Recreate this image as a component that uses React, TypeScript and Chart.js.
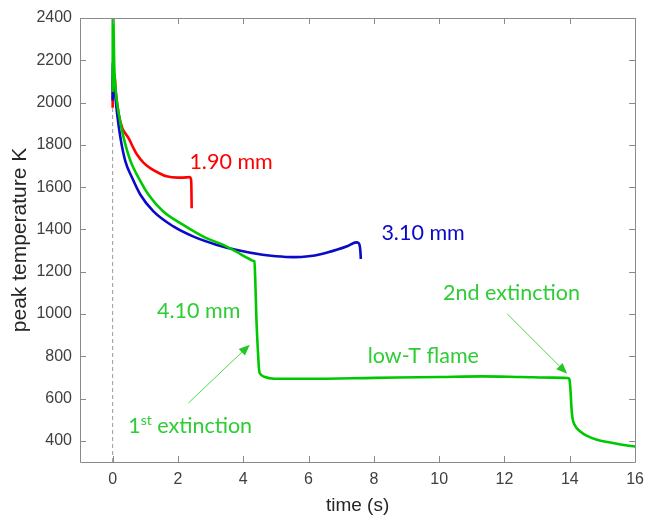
import React, { useEffect, useRef } from "react";
import { Chart, registerables } from "chart.js";

Chart.register(...registerables);

// ---- data (time in s, peak temperature in K) ----
const redTime = [0, 0.004, 0.05, 0.1, 0.19, 0.3, 0.4, 0.5, 0.62, 0.75, 0.95, 1.15, 1.4, 1.65, 2.0, 2.26, 2.36, 2.395, 2.41, 2.415, 2.42];
const redTemp = [1975, 2110, 2140, 2045, 1943, 1878, 1852, 1828, 1790, 1753, 1715, 1690, 1668, 1651, 1645, 1646, 1648, 1640, 1610, 1560, 1500];

const blueTime = [0, 0.004, 0.03, 0.07, 0.14, 0.24, 0.39, 0.6, 0.85, 1.25, 1.86, 2.46, 3.17, 3.77, 4.59, 5.0, 5.55, 6.0, 6.4, 6.86, 7.2, 7.46, 7.53, 7.57, 7.59, 7.6];
const blueTemp = [2010, 2190, 2130, 2050, 1943, 1832, 1722, 1643, 1564, 1485, 1414, 1367, 1328, 1304, 1280, 1273, 1269, 1273, 1284, 1304, 1322, 1339, 1336, 1320, 1290, 1260];

const greenTime = [0, 0.006, 0.05, 0.1, 0.19, 0.34, 0.55, 0.8, 1.1, 1.55, 2.16, 2.87, 3.37, 3.77, 4.19, 4.3, 4.34, 4.37, 4.4, 4.45, 4.49, 4.55, 4.64, 4.94, 6, 8, 10, 11.3, 12.5, 13.5, 13.94, 13.99, 14.02, 14.05, 14.08, 14.15, 14.32, 14.55, 14.83, 15.2, 15.6, 16];
const greenTemp = [2050, 2500, 2170, 2045, 1943, 1832, 1722, 1643, 1564, 1485, 1422, 1359, 1328, 1296, 1260, 1252, 1249, 1150, 988, 820, 728, 712, 703, 694, 694, 698, 702, 705, 702, 699, 697, 690, 642, 560, 510, 475, 444, 422, 405, 393, 382, 373];

const zeroTime = [0, 0];
const zeroTemp = [300, 2400];

const xTicks = [0, 2, 4, 6, 8, 10, 12, 14, 16];
const yTicks = [400, 600, 800, 1000, 1200, 1400, 1600, 1800, 2000, 2200, 2400];
const xRange = [-1, 16];
const yRange = [300, 2400];

const annotationTexts = ["1.90 mm", "3.10 mm", "4.10 mm", "low-T flame", "2nd extinction"];
const annotationTime = [2.35, 8.23, 1.36, 7.81, 10.12];
const annotationTemp = [1718, 1384, 1016, 803, 1099];

const firstExtText = ["1", "st", " extinction"];
const firstExtTime = 0.475;
const firstExtTemp = 468;

const arrowFromTime = [2.32, 12.08];
const arrowFromTemp = [579, 1001];
const arrowToTime = [4.2, 13.92];
const arrowToTemp = [855, 717];

// ---- styles ----
const RED = "#ff0000";
const BLUE = "#0a0ac8";
const GREEN = "#00c800";
const GREEN_TEXT = "#2ecc35";
const AXIS = "#8a8a8a";
const TICK_TEXT = "#404040";
const annotationColors = [RED, BLUE, GREEN_TEXT, GREEN_TEXT, GREEN_TEXT];
const ANNOT_FONT = "Lato";
const ANNOT_SIZE = 21.5;

const zip = (xs: number[], ys: number[]) => xs.map((x, i) => ({ x, y: ys[i] }));

const framePlugin = {
  id: "frame",
  afterDatasetsDraw(chart: any) {
    const { ctx, chartArea: a, scales } = chart;
    const xs = scales.x;
    const ys = scales.y;
    ctx.save();
    // box
    ctx.strokeStyle = AXIS;
    ctx.lineWidth = 1;
    ctx.beginPath();
    ctx.rect(Math.round(a.left) + 0.5, Math.round(a.top) + 0.5, Math.round(a.right - a.left), Math.round(a.bottom - a.top));
    ctx.stroke();
    // inward ticks
    const L = 6;
    ctx.beginPath();
    xTicks.forEach((v) => {
      const px = Math.round(xs.getPixelForValue(v)) + 0.5;
      ctx.moveTo(px, a.bottom);
      ctx.lineTo(px, a.bottom - L);
      ctx.moveTo(px, a.top);
      ctx.lineTo(px, a.top + L);
    });
    yTicks.forEach((v) => {
      const py = Math.round(ys.getPixelForValue(v)) + 0.5;
      ctx.moveTo(a.left, py);
      ctx.lineTo(a.left + L, py);
      ctx.moveTo(a.right, py);
      ctx.lineTo(a.right - L, py);
    });
    ctx.stroke();

    // arrows
    ctx.strokeStyle = "#4ddb4d";
    ctx.fillStyle = "#22c822";
    arrowFromTime.forEach((_, i) => {
      const x0 = xs.getPixelForValue(arrowFromTime[i]);
      const y0 = ys.getPixelForValue(arrowFromTemp[i]);
      const x1 = xs.getPixelForValue(arrowToTime[i]);
      const y1 = ys.getPixelForValue(arrowToTemp[i]);
      const ang = Math.atan2(y1 - y0, x1 - x0);
      const head = 11;
      const half = 4.5;
      const bx = x1 - head * Math.cos(ang);
      const by = y1 - head * Math.sin(ang);
      ctx.lineWidth = 1;
      ctx.beginPath();
      ctx.moveTo(x0, y0);
      ctx.lineTo(bx, by);
      ctx.stroke();
      ctx.beginPath();
      ctx.moveTo(x1, y1);
      ctx.lineTo(bx + half * Math.sin(ang), by - half * Math.cos(ang));
      ctx.lineTo(bx - half * Math.sin(ang), by + half * Math.cos(ang));
      ctx.closePath();
      ctx.fill();
    });

    // text annotations
    ctx.textBaseline = "middle";
    ctx.textAlign = "left";
    annotationTexts.forEach((t, i) => {
      ctx.font = `${ANNOT_SIZE}px ${ANNOT_FONT}`;
      ctx.fillStyle = annotationColors[i];
      ctx.fillText(t, xs.getPixelForValue(annotationTime[i]), ys.getPixelForValue(annotationTemp[i]));
    });
    // 1st extinction with superscript
    let px = xs.getPixelForValue(firstExtTime);
    const py = ys.getPixelForValue(firstExtTemp);
    ctx.fillStyle = GREEN_TEXT;
    ctx.font = `${ANNOT_SIZE}px ${ANNOT_FONT}`;
    ctx.fillText(firstExtText[0], px, py);
    px += ctx.measureText(firstExtText[0]).width;
    ctx.font = `14px ${ANNOT_FONT}`;
    ctx.fillText(firstExtText[1], px, py - 6);
    px += ctx.measureText(firstExtText[1]).width;
    ctx.font = `${ANNOT_SIZE}px ${ANNOT_FONT}`;
    ctx.fillText(firstExtText[2], px, py);
    ctx.restore();
  },
};

export default function App() {
  const ref = useRef<HTMLCanvasElement | null>(null);
  useEffect(() => {
    document.body.style.margin = "0";
    const canvas = ref.current;
    if (!canvas) return;
    const line = (data: any[], color: string, order: number) => ({
      data,
      borderColor: color,
      backgroundColor: color,
      borderWidth: 2.6,
      pointRadius: 0,
      cubicInterpolationMode: "monotone",
      fill: false,
      order,
    });
    const chart = new Chart(canvas, {
      type: "line",
      data: {
        datasets: [
          line(zip(greenTime, greenTemp), GREEN, 0) as any,
          line(zip(blueTime, blueTemp), BLUE, 1) as any,
          line(zip(redTime, redTemp), RED, 2) as any,
          {
            data: zip(zeroTime, zeroTemp),
            borderColor: "#9a9a9a",
            borderWidth: 1,
            borderDash: [4, 3],
            pointRadius: 0,
            fill: false,
            order: 3,
          } as any,
        ],
      },
      options: {
        responsive: false,
        animation: false,
        parsing: false as any,
        layout: { padding: { top: 18, right: 10, left: 0, bottom: 0 } },
        plugins: { legend: { display: false }, tooltip: { enabled: false } },
        scales: {
          x: {
            type: "linear",
            min: xRange[0],
            max: xRange[1],
            grid: { display: false, drawTicks: false },
            border: { display: false },
            afterFit: (s: any) => { s.height = 55; },
            afterBuildTicks: (s: any) => { s.ticks = xTicks.map((v) => ({ value: v })); },
            ticks: {
              padding: 8,
              color: TICK_TEXT,
              font: { family: "Liberation Sans", size: 16 },
              maxRotation: 0,
              autoSkip: false,
              callback: (v: any) => String(v),
            },
            title: {
              display: true,
              text: "time (s)",
              color: "#262626",
              font: { family: "Liberation Sans", size: 19 },
              padding: { top: 0, bottom: 0 },
            },
          },
          y: {
            type: "linear",
            min: yRange[0],
            max: yRange[1],
            grid: { display: false, drawTicks: false },
            border: { display: false },
            afterFit: (s: any) => { s.width = 80; },
            afterBuildTicks: (s: any) => { s.ticks = yTicks.map((v) => ({ value: v })); },
            ticks: {
              padding: 8,
              color: TICK_TEXT,
              font: { family: "Liberation Sans", size: 16 },
              autoSkip: false,
              callback: (v: any) => String(v),
            },
            title: {
              display: true,
              text: "peak temperature K",
              color: "#262626",
              font: { family: "Liberation Sans", size: 21 },
              padding: { top: 8, bottom: 0 },
            },
          },
        },
      },
      plugins: [framePlugin],
    });
    return () => chart.destroy();
  }, []);
  return (
    <div style={{ width: 652, height: 517 }}>
      <canvas ref={ref} width={652} height={517} style={{ display: "block" }} />
    </div>
  );
}
